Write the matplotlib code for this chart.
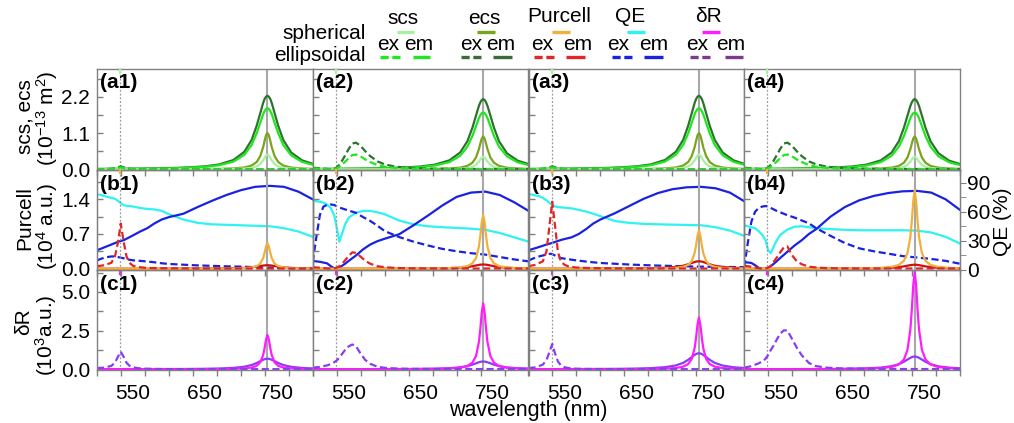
import matplotlib
matplotlib.use("Agg")
import numpy as np
import matplotlib.pyplot as plt
from matplotlib.lines import Line2D
from matplotlib.ticker import FixedLocator, NullFormatter, FixedFormatter

plt.rcParams['font.family'] = ['Liberation Sans', 'DejaVu Sans']
plt.rcParams['mathtext.fontset'] = 'custom'
plt.rcParams['mathtext.rm'] = 'Liberation Sans'
plt.rcParams['mathtext.it'] = 'Liberation Sans:italic'
plt.rcParams['mathtext.bf'] = 'Liberation Sans:bold'

# ---------------- data ----------------
# wavelength grid (nm) for spectra
WL = [500, 510, 520, 525, 529, 533, 537, 541, 545, 550,
      555, 560, 566, 573, 580, 590, 600, 615, 630, 650,
      670, 690, 705, 715, 722, 727, 731, 733, 735, 737,
      739, 741, 743, 747, 752, 759, 770, 785, 800]
# wavelength grid (nm) for QE curves
WLQ = [500, 505, 510, 515, 520, 525, 530, 533, 537, 541,
       545, 550, 560, 570, 580, 590, 600, 620, 640, 660,
       680, 700, 720, 740, 760, 780, 800]

EX_LINE = 532   # excitation wavelength (dotted)
EM_LINE = 737   # emission wavelength (solid gray)

# row a: scattering / extinction cross sections (1e-13 m^2); columns 1&3 and 2&4
a13_scs_sph = [0, 0, 0, 0, 0, 0, 0, 0, 0, 0,
               0, 0, 0, 0, 0, 0, 0, 0.002, 0.002, 0.003,
               0.006, 0.011, 0.023, 0.047, 0.09, 0.16, 0.27, 0.35, 0.42, 0.45,
               0.42, 0.35, 0.27, 0.16, 0.09, 0.047, 0.022, 0.011, 0.006]
a13_ecs_sph = [0, 0, 0, 0, 0, 0, 0, 0, 0, 0,
               0, 0, 0, 0, 0, 0, 0, 0.004, 0.006, 0.008,
               0.014, 0.028, 0.057, 0.114, 0.22, 0.40, 0.67, 0.86, 1.03, 1.10,
               1.03, 0.86, 0.67, 0.40, 0.22, 0.114, 0.054, 0.026, 0.015]
a13_scs_em = [0.011, 0.011, 0.013, 0.013, 0.013, 0.015, 0.015, 0.015, 0.017, 0.017,
              0.019, 0.019, 0.020, 0.022, 0.024, 0.028, 0.031, 0.039, 0.052, 0.076,
              0.124, 0.237, 0.444, 0.74, 1.09, 1.41, 1.67, 1.76, 1.83, 1.85,
              1.83, 1.76, 1.67, 1.41, 1.09, 0.74, 0.424, 0.228, 0.139]
a13_ecs_em = [0.013, 0.013, 0.016, 0.016, 0.016, 0.018, 0.018, 0.018, 0.020, 0.020,
              0.022, 0.022, 0.025, 0.027, 0.029, 0.033, 0.038, 0.047, 0.062, 0.091,
              0.149, 0.285, 0.535, 0.89, 1.32, 1.70, 2.01, 2.13, 2.20, 2.23,
              2.20, 2.13, 2.01, 1.70, 1.32, 0.89, 0.51, 0.274, 0.167]
a13_scs_ex = [0.002, 0.004, 0.011, 0.022, 0.041, 0.06, 0.041, 0.022, 0.012, 0.007,
              0.004, 0.003, 0.002, 0.001, 0.001, 0.001, 0, 0, 0, 0,
              0, 0, 0, 0, 0, 0, 0, 0, 0, 0,
              0, 0, 0, 0, 0, 0, 0, 0, 0]
a13_ecs_ex = [0.003, 0.006, 0.016, 0.032, 0.062, 0.09, 0.062, 0.032, 0.018, 0.010,
              0.006, 0.004, 0.003, 0.002, 0.001, 0.001, 0, 0, 0, 0,
              0, 0, 0, 0, 0, 0, 0, 0, 0, 0,
              0, 0, 0, 0, 0, 0, 0, 0, 0]
a24_scs_sph = [0, 0, 0, 0, 0, 0, 0, 0, 0, 0,
               0, 0, 0, 0, 0, 0, 0, 0.002, 0.002, 0.003,
               0.005, 0.010, 0.020, 0.040, 0.076, 0.137, 0.232, 0.296, 0.355, 0.38,
               0.355, 0.296, 0.232, 0.137, 0.076, 0.040, 0.019, 0.009, 0.005]
a24_ecs_sph = [0, 0, 0, 0, 0, 0, 0, 0, 0, 0,
               0, 0, 0, 0, 0, 0, 0, 0.004, 0.005, 0.007,
               0.012, 0.025, 0.052, 0.104, 0.2, 0.36, 0.61, 0.78, 0.934, 1.0,
               0.934, 0.78, 0.61, 0.36, 0.2, 0.104, 0.049, 0.024, 0.014]
a24_scs_em = [0.010, 0.010, 0.012, 0.012, 0.012, 0.014, 0.014, 0.014, 0.015, 0.015,
              0.017, 0.017, 0.019, 0.021, 0.022, 0.026, 0.029, 0.036, 0.048, 0.071,
              0.115, 0.22, 0.413, 0.688, 1.01, 1.31, 1.55, 1.64, 1.70, 1.72,
              1.70, 1.64, 1.55, 1.31, 1.01, 0.688, 0.394, 0.212, 0.129]
a24_ecs_em = [0.013, 0.013, 0.015, 0.015, 0.015, 0.017, 0.017, 0.017, 0.019, 0.019,
              0.021, 0.021, 0.023, 0.026, 0.028, 0.032, 0.036, 0.045, 0.060, 0.087,
              0.143, 0.273, 0.511, 0.852, 1.26, 1.63, 1.92, 2.03, 2.10, 2.13,
              2.10, 2.03, 1.92, 1.63, 1.26, 0.852, 0.488, 0.262, 0.160]
a24_ecs_ex = [0.05, 0.03, 0.012, 0.006, 0.01, 0.05, 0.14, 0.27, 0.42, 0.62,
              0.78, 0.81, 0.72, 0.55, 0.40, 0.24, 0.15, 0.08, 0.05, 0.03,
              0.02, 0.015, 0.012, 0.012, 0.011, 0.011, 0.011, 0.01, 0.01, 0.01,
              0.01, 0.01, 0.01, 0.01, 0.01, 0.01, 0.01, 0.01, 0.01]
a24_scs_ex = [0.03, 0.017, 0.007, 0.003, 0.006, 0.03, 0.08, 0.15, 0.23, 0.34,
              0.43, 0.45, 0.40, 0.30, 0.22, 0.13, 0.08, 0.045, 0.028, 0.017,
              0.011, 0.008, 0.007, 0.007, 0.006, 0.006, 0.006, 0.006, 0.006, 0.006,
              0.006, 0.006, 0.006, 0.006, 0.006, 0.006, 0.006, 0.006, 0.006]

# row b: Purcell factor (1e4 a.u.)
b1_pur_sph = [0, 0, 0, 0, 0, 0, 0, 0, 0, 0,
              0, 0, 0, 0, 0, 0, 0, 0, 0, 0.002,
              0.003, 0.006, 0.012, 0.025, 0.052, 0.104, 0.213, 0.317, 0.448, 0.52,
              0.448, 0.317, 0.213, 0.104, 0.052, 0.025, 0.011, 0.006, 0.003]
b2_pur_sph = [0, 0, 0, 0, 0, 0, 0, 0, 0, 0,
              0, 0, 0, 0, 0, 0, 0, 0, 0, 0.003,
              0.006, 0.012, 0.026, 0.053, 0.108, 0.216, 0.443, 0.659, 0.931, 1.08,
              0.931, 0.659, 0.443, 0.216, 0.108, 0.053, 0.024, 0.012, 0.006]
b3_pur_sph = [0, 0, 0, 0, 0, 0, 0, 0, 0, 0,
              0, 0, 0, 0, 0, 0, 0, 0, 0, 0.002,
              0.004, 0.008, 0.018, 0.038, 0.077, 0.154, 0.316, 0.470, 0.664, 0.77,
              0.664, 0.470, 0.316, 0.154, 0.077, 0.038, 0.017, 0.008, 0.005]
b4_pur_sph = [0, 0, 0, 0, 0, 0, 0, 0, 0, 0,
              0, 0, 0, 0, 0, 0, 0, 0, 0, 0.005,
              0.009, 0.017, 0.038, 0.077, 0.158, 0.316, 0.648, 0.964, 1.36, 1.58,
              1.36, 0.964, 0.648, 0.316, 0.158, 0.077, 0.035, 0.017, 0.009]
b1_pur_em = [0, 0, 0, 0, 0, 0, 0, 0, 0, 0,
             0, 0, 0, 0, 0, 0.001, 0.001, 0.0015, 0.002, 0.003,
             0.005, 0.009, 0.017, 0.028, 0.041, 0.053, 0.063, 0.067, 0.069, 0.07,
             0.069, 0.067, 0.063, 0.053, 0.041, 0.028, 0.016, 0.009, 0.005]
b2_pur_em = [0, 0, 0, 0, 0, 0, 0, 0, 0, 0,
             0, 0, 0, 0, 0.001, 0.001, 0.001, 0.002, 0.002, 0.003,
             0.006, 0.011, 0.020, 0.034, 0.050, 0.065, 0.077, 0.081, 0.084, 0.085,
             0.084, 0.081, 0.077, 0.065, 0.050, 0.034, 0.019, 0.010, 0.006]
b3_pur_em = [0.001, 0.001, 0.001, 0.001, 0.001, 0.001, 0.001, 0.001, 0.001, 0.001,
             0.002, 0.002, 0.002, 0.002, 0.002, 0.002, 0.003, 0.003, 0.004, 0.006,
             0.010, 0.019, 0.036, 0.06, 0.089, 0.115, 0.135, 0.143, 0.148, 0.15,
             0.148, 0.143, 0.135, 0.115, 0.089, 0.06, 0.034, 0.018, 0.011]
b4_pur_em = [0, 0, 0, 0, 0, 0, 0, 0, 0, 0,
             0, 0, 0, 0, 0.001, 0.001, 0.001, 0.002, 0.002, 0.003,
             0.005, 0.010, 0.019, 0.032, 0.047, 0.061, 0.072, 0.076, 0.079, 0.08,
             0.079, 0.076, 0.072, 0.061, 0.047, 0.032, 0.018, 0.010, 0.006]
b1_pur_ex = [0.05, 0.07, 0.12, 0.25, 0.52, 0.91, 0.55, 0.25, 0.12, 0.06,
             0.04, 0.03, 0.02, 0.015, 0.012, 0.01, 0.008, 0.006, 0.005, 0.004,
             0.004, 0.003, 0.003, 0.003, 0.003, 0.003, 0.003, 0.003, 0.003, 0.003,
             0.003, 0.003, 0.003, 0.003, 0.003, 0.003, 0.003, 0.003, 0.003]
b2_pur_ex = [0.03, 0.02, 0.005, 0.003, 0.005, 0.02, 0.05, 0.10, 0.17, 0.26,
             0.33, 0.32, 0.25, 0.16, 0.10, 0.05, 0.03, 0.015, 0.01, 0.006,
             0.005, 0.004, 0.004, 0.004, 0.004, 0.004, 0.004, 0.004, 0.004, 0.004,
             0.004, 0.004, 0.004, 0.004, 0.004, 0.004, 0.004, 0.004, 0.004]
b3_pur_ex = [0.05, 0.08, 0.15, 0.35, 0.85, 1.35, 0.85, 0.33, 0.15, 0.08,
             0.05, 0.035, 0.025, 0.02, 0.015, 0.012, 0.01, 0.008, 0.006, 0.005,
             0.004, 0.004, 0.004, 0.004, 0.004, 0.004, 0.004, 0.004, 0.004, 0.004,
             0.004, 0.004, 0.004, 0.004, 0.004, 0.004, 0.004, 0.004, 0.004]
b4_pur_ex = [0.06, 0.04, 0.01, 0.004, 0.005, 0.02, 0.06, 0.14, 0.22, 0.33,
             0.43, 0.45, 0.28, 0.15, 0.09, 0.04, 0.025, 0.012, 0.008, 0.005,
             0.005, 0.005, 0.005, 0.005, 0.005, 0.005, 0.005, 0.005, 0.005, 0.005,
             0.005, 0.005, 0.005, 0.005, 0.005, 0.005, 0.005, 0.005, 0.005]

# row b: quantum efficiency (%)
b1_qe_sph = [78.5, 77.5, 76.5, 75.5, 74.5, 73.5, 71, 69, 67, 66.3,
             66, 65.5, 64, 63, 62.5, 61, 57.5, 52, 48.5, 47,
             46.5, 46, 45.5, 45, 43, 39.5, 34]
b1_qe_em = [20, 21.5, 23, 24.5, 26, 27.5, 29, 29.7, 30.5, 32,
            33.5, 35.5, 39.5, 43, 48, 52, 54.5, 58, 65, 71.5,
            77.5, 82.5, 86, 87, 86, 81, 73]
b1_qe_ex = [9.4, 11, 12.2, 13, 13.6, 13.6, 12.8, 12.3, 11.7, 11,
            10.2, 9.6, 9, 8.3, 7.5, 6.5, 5.8, 5, 4.3, 3.8,
            3.3, 3, 2.5, 2, 1.6, 1.3, 1]
b2_qe_sph = [72, 71, 70.5, 69.5, 67.5, 64, 56, 45, 29, 38,
             47, 54, 59, 61, 61, 59.5, 57.5, 51, 47, 45,
             44, 43.3, 42.5, 41.3, 38, 33.5, 29]
b2_qe_em = [8.7, 8.5, 8, 7.2, 6.4, 3.5, 1.2, 0.8, 2, 4,
            6, 9, 14.5, 21, 26, 29.5, 32, 36.6, 46, 56,
            66.5, 75.5, 80, 81, 77.5, 70, 61]
b2_qe_ex = [7.6, 33.8, 57, 65.5, 67.3, 67.7, 67, 66, 64.5, 63.5,
            62.5, 61.3, 59, 54.5, 50.5, 45.5, 40, 33.8, 29, 25,
            21.5, 19, 17, 15.5, 13, 10.5, 8.5]
b3_qe_sph = [78.5, 77.8, 77, 76.2, 74.5, 72, 68.7, 67, 65.5, 65,
             64.7, 64.3, 63.6, 62, 60.3, 58, 55.5, 50.5, 48.5, 47.5,
             47, 46.7, 46.3, 46, 44, 40.5, 35]
b3_qe_em = [20, 21.2, 22.3, 23.5, 24.7, 26, 27, 27.7, 28.7, 29.7,
            30.7, 31.7, 33.5, 37, 42, 47.8, 52, 58.5, 66, 73.5,
            79.5, 83.5, 85.5, 86, 84.5, 80, 71]
b3_qe_ex = [9.4, 11, 12.5, 13.7, 14.6, 15.6, 16.4, 16, 14.5, 13,
            12, 11.3, 10.2, 9.2, 8.3, 7.5, 6.8, 6, 5.2, 4.6,
            4.1, 3.7, 3.3, 3, 2.8, 2.6, 2.4]
b4_qe_sph = [46, 45, 44, 43, 40, 36, 30, 20, 17, 24,
             30, 36, 41.5, 44.5, 45, 44, 43, 42, 41.3, 40.8,
             40.8, 40.8, 40.8, 40.5, 38.5, 34, 27]
b4_qe_em = [7.6, 7.3, 6.8, 4.5, 1.8, 0.4, 0.3, 1.2, 3.5, 6,
            8.5, 12, 18.5, 25, 30.5, 37, 42, 55, 65, 72,
            76.5, 79.5, 81.3, 81.8, 80, 73, 62]
b4_qe_ex = [2.4, 28, 50, 60, 64, 65.5, 66, 65.5, 64, 62.5,
            61, 59.5, 56.5, 54, 51, 48, 43, 35, 27.5, 22,
            19, 16.5, 14, 12.5, 11, 9, 6]

# row c: dR (1e3 a.u.)
c1_dr_sph = [0, 0, 0, 0, 0, 0, 0, 0, 0, 0,
             0, 0, 0, 0, 0, 0, 0, 0, 0, 0.007,
             0.012, 0.024, 0.053, 0.109, 0.222, 0.444, 0.910, 1.354, 1.914, 2.22,
             1.914, 1.354, 0.910, 0.444, 0.222, 0.109, 0.049, 0.024, 0.013]
c2_dr_sph = [0, 0, 0, 0, 0, 0, 0, 0, 0, 0,
             0, 0, 0, 0, 0, 0, 0, 0, 0, 0.013,
             0.023, 0.047, 0.102, 0.209, 0.426, 0.852, 1.747, 2.599, 3.672, 4.26,
             3.672, 2.599, 1.747, 0.852, 0.426, 0.209, 0.094, 0.047, 0.026]
c3_dr_sph = [0, 0, 0, 0, 0, 0, 0, 0, 0, 0,
             0, 0, 0, 0, 0, 0, 0, 0, 0, 0.010,
             0.018, 0.037, 0.080, 0.164, 0.334, 0.668, 1.369, 2.037, 2.879, 3.34,
             2.879, 2.037, 1.369, 0.668, 0.334, 0.164, 0.073, 0.037, 0.020]
c4_dr_sph = [0, 0, 0, 0, 0, 0, 0, 0, 0, 0,
             0, 0, 0, 0, 0, 0, 0, 0, 0, 0.019,
             0.035, 0.069, 0.151, 0.309, 0.63, 1.26, 2.583, 3.843, 5.431, 6.3,
             5.431, 3.843, 2.583, 1.26, 0.63, 0.309, 0.139, 0.069, 0.038]
c1_dr_em = [0.004, 0.004, 0.005, 0.005, 0.005, 0.005, 0.005, 0.005, 0.006, 0.006,
            0.007, 0.007, 0.007, 0.008, 0.009, 0.010, 0.012, 0.014, 0.019, 0.028,
            0.046, 0.087, 0.163, 0.272, 0.401, 0.520, 0.612, 0.648, 0.672, 0.68,
            0.672, 0.648, 0.612, 0.520, 0.401, 0.272, 0.156, 0.084, 0.051]
c2_dr_em = [0.003, 0.003, 0.004, 0.004, 0.004, 0.004, 0.004, 0.004, 0.005, 0.005,
            0.005, 0.005, 0.006, 0.006, 0.007, 0.008, 0.009, 0.011, 0.014, 0.021,
            0.034, 0.064, 0.12, 0.20, 0.295, 0.382, 0.45, 0.477, 0.494, 0.5,
            0.494, 0.477, 0.45, 0.382, 0.295, 0.20, 0.115, 0.062, 0.038]
c3_dr_em = [0.006, 0.006, 0.007, 0.007, 0.007, 0.008, 0.008, 0.008, 0.009, 0.009,
            0.010, 0.010, 0.011, 0.012, 0.013, 0.015, 0.018, 0.022, 0.029, 0.042,
            0.069, 0.132, 0.247, 0.412, 0.608, 0.787, 0.927, 0.982, 1.02, 1.03,
            1.02, 0.982, 0.927, 0.787, 0.608, 0.412, 0.236, 0.127, 0.077]
c4_dr_em = [0.005, 0.005, 0.006, 0.006, 0.006, 0.007, 0.007, 0.007, 0.007, 0.007,
            0.008, 0.008, 0.009, 0.010, 0.011, 0.012, 0.014, 0.017, 0.023, 0.034,
            0.055, 0.105, 0.197, 0.328, 0.484, 0.626, 0.738, 0.781, 0.81, 0.82,
            0.81, 0.781, 0.738, 0.626, 0.484, 0.328, 0.188, 0.101, 0.062]
c1_dr_ex = [0.08, 0.10, 0.22, 0.42, 0.80, 1.14, 0.80, 0.42, 0.23, 0.13,
            0.08, 0.055, 0.04, 0.03, 0.02, 0.015, 0.01, 0.008, 0.006, 0.005,
            0.005, 0.005, 0.005, 0.005, 0.005, 0.005, 0.005, 0.005, 0.005, 0.005,
            0.005, 0.005, 0.005, 0.005, 0.005, 0.005, 0.005, 0.005, 0.005]
c2_dr_ex = [0.10, 0.15, 0.25, 0.33, 0.43, 0.55, 0.75, 1.0, 1.25, 1.48,
            1.6, 1.5, 1.05, 0.6, 0.35, 0.16, 0.09, 0.05, 0.03, 0.02,
            0.01, 0.01, 0.01, 0.01, 0.01, 0.01, 0.01, 0.01, 0.01, 0.01,
            0.01, 0.01, 0.01, 0.01, 0.01, 0.01, 0.01, 0.01, 0.01]
c3_dr_ex = [0.08, 0.12, 0.30, 0.60, 1.10, 1.63, 1.0, 0.5, 0.25, 0.13,
            0.08, 0.05, 0.035, 0.025, 0.02, 0.015, 0.01, 0.008, 0.006, 0.005,
            0.005, 0.005, 0.005, 0.005, 0.005, 0.005, 0.005, 0.005, 0.005, 0.005,
            0.005, 0.005, 0.005, 0.005, 0.005, 0.005, 0.005, 0.005, 0.005]
c4_dr_ex = [0.10, 0.20, 0.38, 0.50, 0.65, 0.90, 1.25, 1.55, 1.90, 2.30,
            2.52, 2.50, 2.0, 1.4, 0.9, 0.4, 0.2, 0.1, 0.06, 0.04,
            0.025, 0.02, 0.015, 0.015, 0.012, 0.012, 0.012, 0.012, 0.012, 0.012,
            0.012, 0.012, 0.012, 0.012, 0.012, 0.012, 0.012, 0.012, 0.012]

XTICK_LABELS = [550, 650, 750]
ROW_A_TICKS = [0.0, 1.1, 2.2]
ROW_B_TICKS = [0.0, 0.7, 1.4]
ROW_C_TICKS = [0.0, 2.5, 5.0]
QE_TICKS = [0, 30, 60, 90]

# ---------------- style ----------------
LGREEN = '#a6f2a0'
OLIVE = '#7aa41e'
BGREEN = '#1fe61f'
DGREEN = '#2c742c'
ORANGE = '#f0b03c'
RED = '#e02626'
CYAN = '#2ff2f2'
BLUE = '#1a22e0'
MAGENTA = '#ff1cff'
VIOLET = '#8a3cf5'
LEG_PURPLE = '#7c3a8c'
LEG_DGREEN = '#3b6b3b'
SPINE = '#808080'
FS = 15
LW = 1.6
DASH = (0, (3.2, 1.6))

W, H = 1014, 423
fig = plt.figure(figsize=(W / 100, H / 100), dpi=100)
X0, X1 = 97, 960
CW = (X1 - X0) / 4
ROWS = [(69, 170), (170, 270), (270, 370)]
YLIMS = [(-0.02, 3.04), (-0.026, 1.99), (-0.05, 6.42)]
QE_LIM = (-0.5, 103.5)


def px_x(x):
    return x / W


def px_y(y):
    return 1 - y / H


def add_ax(r, c):
    t, b = ROWS[r]
    return fig.add_axes([(X0 + c * CW) / W, 1 - b / H, CW / W, (b - t) / H])


def style(ax, r, c, yt, ylim):
    ax.set_xlim(500, 800)
    ax.set_ylim(*ylim)
    for s in ax.spines.values():
        s.set_color(SPINE)
        s.set_linewidth(1.0)
    ax.xaxis.set_major_locator(FixedLocator(XTICK_LABELS))
    ax.xaxis.set_minor_locator(FixedLocator(list(np.linspace(500, 800, 10))))
    ax.tick_params(axis='x', which='major', length=0, labelsize=FS, pad=10)
    ax.tick_params(axis='x', which='minor', length=4, width=1, direction='out', color=SPINE)
    if r < 2:
        ax.xaxis.set_major_formatter(NullFormatter())
    ax.yaxis.set_major_locator(FixedLocator(yt))
    step = yt[1] - yt[0]
    ax.yaxis.set_minor_locator(FixedLocator([yt[0] + step * k / 2 for k in range(1, 7)]))
    ax.tick_params(axis='y', which='both', length=4, width=1, direction='in', color=SPINE,
                   labelsize=FS, pad=5)
    if c == 0:
        ax.yaxis.set_major_formatter(FixedFormatter(['%.1f' % v for v in yt]))
    else:
        ax.yaxis.set_major_formatter(NullFormatter())
    ax.axvline(EM_LINE, color='#a8a8a8', lw=1.5, zorder=0.5)
    ax.axvline(EX_LINE, color='#9a9a9a', lw=0.9, ls=(0, (1.5, 1.5)), zorder=0.5)
    cap = [LGREEN, ORANGE, MAGENTA][r]
    ax.plot([EX_LINE, EX_LINE], [1.0, 0.965], color=cap, lw=1.5,
            transform=ax.get_xaxis_transform(), clip_on=False, zorder=5)


row_a = [(a13_scs_sph, a13_ecs_sph, a13_scs_em, a13_ecs_em, a13_scs_ex, a13_ecs_ex),
         (a24_scs_sph, a24_ecs_sph, a24_scs_em, a24_ecs_em, a24_scs_ex, a24_ecs_ex),
         (a13_scs_sph, a13_ecs_sph, a13_scs_em, a13_ecs_em, a13_scs_ex, a13_ecs_ex),
         (a24_scs_sph, a24_ecs_sph, a24_scs_em, a24_ecs_em, a24_scs_ex, a24_ecs_ex)]
row_b = [(b1_pur_sph, b1_pur_em, b1_pur_ex, b1_qe_sph, b1_qe_em, b1_qe_ex),
         (b2_pur_sph, b2_pur_em, b2_pur_ex, b2_qe_sph, b2_qe_em, b2_qe_ex),
         (b3_pur_sph, b3_pur_em, b3_pur_ex, b3_qe_sph, b3_qe_em, b3_qe_ex),
         (b4_pur_sph, b4_pur_em, b4_pur_ex, b4_qe_sph, b4_qe_em, b4_qe_ex)]
row_c = [(c1_dr_sph, c1_dr_em, c1_dr_ex), (c2_dr_sph, c2_dr_em, c2_dr_ex),
         (c3_dr_sph, c3_dr_em, c3_dr_ex), (c4_dr_sph, c4_dr_em, c4_dr_ex)]

for c in range(4):
    # row a
    ax = add_ax(0, c)
    style(ax, 0, c, ROW_A_TICKS, YLIMS[0])
    scs_s, ecs_s, scs_em, ecs_em, scs_ex, ecs_ex = row_a[c]
    ax.plot(WL, ecs_em, color=DGREEN, lw=LW, zorder=2)
    ax.plot(WL, scs_em, color=BGREEN, lw=LW, zorder=2.1)
    ax.plot(WL, ecs_s, color=OLIVE, lw=LW, zorder=2.2)
    ax.plot(WL, scs_s, color=LGREEN, lw=LW, zorder=2.3)
    ax.plot(WL, ecs_ex, color=DGREEN, lw=LW, ls=DASH, zorder=2.4)
    ax.plot(WL, scs_ex, color=BGREEN, lw=LW, ls=DASH, zorder=2.5)
    ax.text(0.015, 0.96, '(a%d)' % (c + 1), transform=ax.transAxes, fontsize=FS,
            fontweight='bold', va='top', ha='left', zorder=6)

    # row b
    ax = add_ax(1, c)
    tw = ax.twinx()
    style(ax, 1, c, ROW_B_TICKS, YLIMS[1])
    ax.set_zorder(tw.get_zorder() + 1)
    ax.patch.set_visible(False)
    p_s, p_em, p_ex, q_s, q_em, q_ex = row_b[c]
    tw.set_ylim(*QE_LIM)
    tw.plot(WLQ, q_s, color=CYAN, lw=LW)
    tw.plot(WLQ, q_em, color=BLUE, lw=LW)
    tw.plot(WLQ, q_ex, color=BLUE, lw=LW, ls=DASH)
    for s in tw.spines.values():
        s.set_color(SPINE)
    if c == 3:
        tw.yaxis.set_major_locator(FixedLocator(QE_TICKS))
        tw.yaxis.set_minor_locator(FixedLocator([15, 45, 75]))
        tw.tick_params(axis='y', which='both', length=4, direction='out', color=SPINE,
                       labelsize=FS, pad=1)
    else:
        tw.set_yticks([])
    ax.plot(WL, p_em, color='#cc1010', lw=LW, zorder=2)
    ax.plot(WL, p_s, color=ORANGE, lw=LW, zorder=2.1)
    ax.plot(WL, p_ex, color=RED, lw=LW, ls=DASH, zorder=2.2)
    ax.text(0.015, 0.95, '(b%d)' % (c + 1), transform=ax.transAxes, fontsize=FS,
            fontweight='bold', va='top', ha='left', zorder=6)

    # row c
    ax = add_ax(2, c)
    style(ax, 2, c, ROW_C_TICKS, YLIMS[2])
    d_s, d_em, d_ex = row_c[c]
    ax.plot(WL, d_em, color=VIOLET, lw=LW, zorder=2)
    ax.plot(WL, d_s, color=MAGENTA, lw=LW, zorder=2.1)
    ax.plot(WL, d_ex, color=VIOLET, lw=LW, ls=DASH, zorder=2.2)
    ax.text(0.015, 0.95, '(c%d)' % (c + 1), transform=ax.transAxes, fontsize=FS,
            fontweight='bold', va='top', ha='left', zorder=6)

# axis labels
fig.text(px_x(25), px_y(117), 'scs, ecs', rotation=90, fontsize=FS, ha='center', va='center')
fig.text(px_x(47), px_y(118), '(10$^{-13}$ m$^{2}$)', rotation=90, fontsize=FS,
         ha='center', va='center')
fig.text(px_x(25), px_y(218), 'Purcell', rotation=90, fontsize=FS, ha='center', va='center')
fig.text(px_x(47), px_y(226), '(10$^{4}$ a.u.)', rotation=90, fontsize=FS,
         ha='center', va='center')
fig.text(px_x(24), px_y(322), 'δR', rotation=90, fontsize=FS, ha='center', va='center')
fig.text(px_x(46), px_y(335), '(10$^{3}$a.u.)', rotation=90, fontsize=FS,
         ha='center', va='center')
fig.text(px_x(1003), px_y(222), 'QE (%)', rotation=90, fontsize=FS, ha='center', va='center')
fig.text(px_x(528), px_y(416), 'wavelength (nm)', fontsize=15.5, ha='center', va='baseline')

# custom legend
fig.text(px_x(366), px_y(39), 'spherical', fontsize=FS, ha='right', va='baseline')
fig.text(px_x(366), px_y(61), 'ellipsoidal', fontsize=FS, ha='right', va='baseline')
LEG = [('scs', 402.7, 24.5, LGREEN, (396.7, 414), 388, 418.5, BGREEN, (380, 400), (413, 430)),
       ('ecs', 484, 24.5, OLIVE, (476.7, 495), 471, 501, LEG_DGREEN, (461, 481), (493, 512)),
       ('Purcell', 559, 22, ORANGE, (551.7, 570), 541.7, 577.5, RED, (534, 554), (566, 585)),
       ('QE', 630, 22, CYAN, (627, 645), 618, 654, BLUE, (612, 632), (644, 663)),
       ('δR', 708, 22, MAGENTA, (701.7, 720), 697, 731, LEG_PURPLE, (690, 710), (725, 743))]
for name, tx, ty, scol, sx, exx, emx, ecol, dx, sx2 in LEG:
    fig.text(px_x(tx), px_y(ty), name, fontsize=FS, ha='center', va='baseline')
    fig.add_artist(Line2D([px_x(sx[0]), px_x(sx[1])], [px_y(31.7), px_y(31.7)],
                          color=scol, lw=2.4, solid_capstyle='butt', transform=fig.transFigure))
    fig.text(px_x(exx), px_y(50.5), 'ex', fontsize=FS, ha='center', va='baseline')
    fig.text(px_x(emx), px_y(50.5), 'em', fontsize=FS, ha='center', va='baseline')
    fig.add_artist(Line2D([px_x(dx[0]), px_x(dx[1])], [px_y(56.7), px_y(56.7)],
                          color=ecol, lw=2.4, ls=(0, (2.45, 1.1)), dash_capstyle='butt',
                          transform=fig.transFigure))
    fig.add_artist(Line2D([px_x(sx2[0]), px_x(sx2[1])], [px_y(56.7), px_y(56.7)],
                          color=ecol, lw=2.4, solid_capstyle='butt', transform=fig.transFigure))

fig.savefig('out.png', dpi=100)
